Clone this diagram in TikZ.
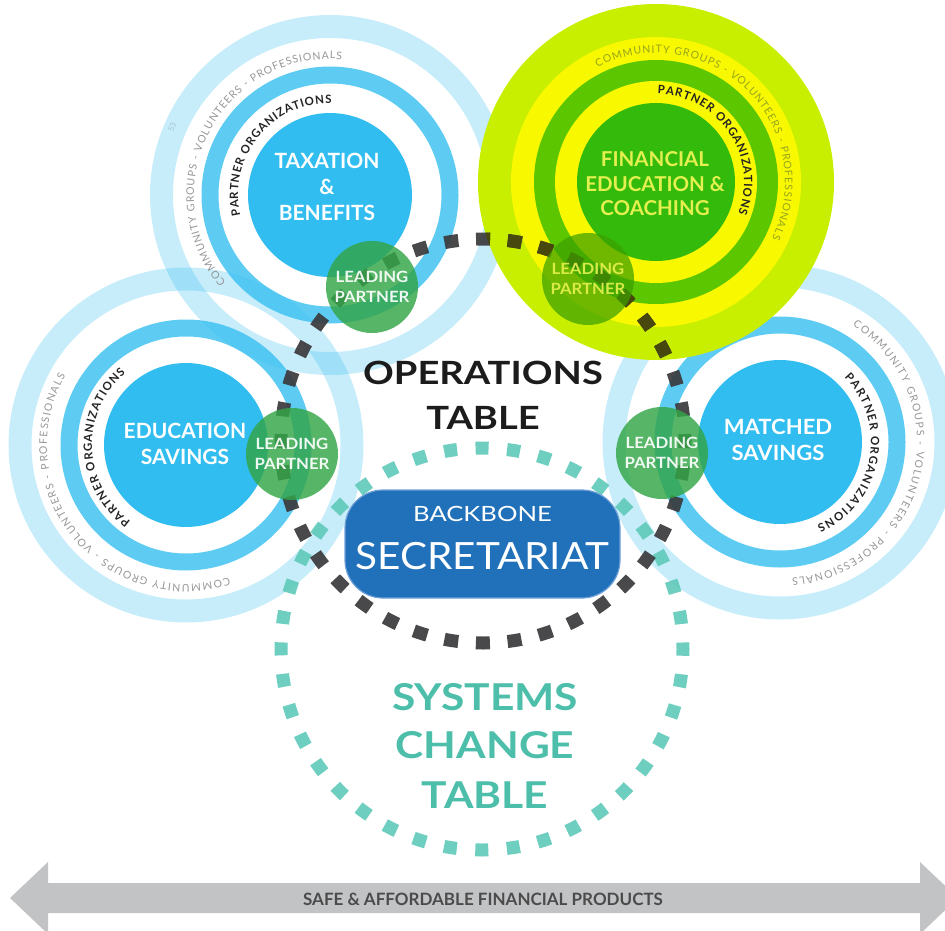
\documentclass[tikz,border=0pt]{standalone}
\usepackage{fontspec}
\usepackage{graphicx}
\setmainfont{Lato}
\usetikzlibrary{decorations.text}
\definecolor{skyb}{RGB}{49,189,240}
\definecolor{lpgreen}{RGB}{50,165,70}
\definecolor{dashdark}{RGB}{58,58,60}
\definecolor{dasholive}{RGB}{72,72,10}
\definecolor{teal2}{RGB}{94,201,185}
\definecolor{tealtext}{RGB}{76,190,170}
\definecolor{bbblue}{RGB}{33,113,186}
\definecolor{bbedge}{RGB}{110,160,215}
\definecolor{arrowgray}{RGB}{194,195,197}
\definecolor{arrowtext}{RGB}{75,75,75}
\definecolor{lime}{RGB}{200,238,0}
\definecolor{hiyellow}{RGB}{248,248,0}
\definecolor{ringgreen}{RGB}{92,198,0}
\definecolor{fingreen}{RGB}{52,186,10}
\definecolor{fintext}{RGB}{228,240,80}
\definecolor{finlp}{RGB}{60,160,0}
\definecolor{commgray}{RGB}{150,150,150}
\definecolor{commolive}{RGB}{150,165,30}
\definecolor{ptcol}{RGB}{35,35,35}
\definecolor{titleblack}{RGB}{28,28,28}
\definecolor{pagenum}{RGB}{165,195,210}
\newcommand{\ptfont}{\fontsize{11.5}{12}\selectfont\bfseries}
\newcommand{\cmfont}{\fontsize{10.5}{11}\selectfont}
\newcommand{\wide}[2]{\scalebox{#1}[1]{#2}}
\newcommand{\ringtext}[7]{\path[decorate,decoration={text along path,text align={fit to path},text={|\color{#6}#5|#7}}] (#1) ++(#3:#2) arc[start angle=#3,end angle=#4,radius=#2];}
\begin{document}
\begin{tikzpicture}[x=1pt,y=1pt,
  lightring/.style={draw=skyb,draw opacity=0.27,line width=23pt},
  midring/.style={draw=skyb,draw opacity=0.78,line width=17pt},
  core/.style={circle,fill=skyb,minimum size=164pt,inner sep=0pt},
  coretext/.style={text=white,font=\fontsize{21}{26}\selectfont\bfseries,align=center,inner sep=0pt},
  leadp/.style={circle,fill=lpgreen,fill opacity=0.82,text opacity=0.92,text=white,minimum size=92pt,inner sep=0pt,font=\fontsize{15.5}{20}\selectfont\bfseries,align=center},
  opsdash/.style={draw=dashdark,draw opacity=0.92,line width=13pt,dash pattern=on 14pt off 17.73pt,dash phase=7pt},
  sysdash/.style={draw=teal2,draw opacity=0.9,line width=13pt,dash pattern=on 13pt off 18.57pt,dash phase=6.5pt},
  bigtitle/.style={font=\fontsize{32}{40}\selectfont\bfseries,text=titleblack,inner sep=0pt},
  systitle/.style={font=\fontsize{37}{44}\selectfont\bfseries,text=tealtext,inner sep=0pt},
  bbox/.style={rounded corners=38pt,fill=bbblue,draw=bbedge,line width=1.2pt,minimum width=275pt,minimum height=108pt,inner sep=0pt}
]
\useasboundingbox (0,0) rectangle (945,-931);
\clip (0,0) rectangle (945,-931);

\coordinate (taxc) at (330,-195);
\coordinate (educ) at (186,-445);
\coordinate (matc) at (780,-442);
\coordinate (finc) at (656,-182);
\coordinate (opsc) at (483,-441);
\coordinate (sysc) at (482,-649);

% blue clusters
\draw[lightring] (taxc) circle[radius=168.5];
\draw[lightring] (educ) circle[radius=166];
\draw[lightring] (matc) circle[radius=166];
\draw[midring] (taxc) circle[radius=120];
\draw[midring] (educ) circle[radius=117];
\draw[midring] (matc) circle[radius=117];
\node[core] (tax) at (taxc) {};
\node[core] (edu) at (educ) {};
\node[core] (mat) at (matc) {};

% highlighted cluster
\fill[lime] (finc) circle[radius=178];
\fill[hiyellow] (finc) circle[radius=145];
\fill[ringgreen] (finc) circle[radius=122];
\fill[hiyellow] (finc) circle[radius=101];
\node[core,fill=fingreen,minimum size=158pt] (fin) at (finc) {};

% ring texts
\ringtext{taxc}{92}{193}{89}{\ptfont}{ptcol}{PARTNER ORGANIZATIONS}
\ringtext{taxc}{136}{220}{85}{\cmfont}{commgray}{COMMUNITY GROUPS - VOLUNTEERS - PROFESSIONALS}
\ringtext{educ}{94}{234}{130}{\ptfont}{ptcol}{PARTNER ORGANIZATIONS}
\ringtext{educ}{139}{288}{150}{\cmfont}{commgray}{COMMUNITY GROUPS - VOLUNTEERS - PROFESSIONALS}
\ringtext{matc}{91}{45}{-66}{\ptfont}{ptcol}{PARTNER ORGANIZATIONS}
\ringtext{matc}{137}{58}{-85}{\cmfont}{commgray}{COMMUNITY GROUPS - VOLUNTEERS - PROFESSIONALS}
\ringtext{finc}{88}{89}{-21}{\ptfont}{ptcol}{PARTNER ORGANIZATIONS}
\ringtext{finc}{129}{117}{-26}{\cmfont}{commolive}{COMMUNITY GROUPS - VOLUNTEERS - PROFESSIONALS}
\node[rotate=67,text=pagenum,font=\fontsize{8}{9}\selectfont,inner sep=0pt] (pg) at (172,-127) {53};

% dashed tables
\draw[sysdash] (sysc) circle[radius=201];
\draw[opsdash] (opsc) circle[radius=202];
\begin{scope}
  \clip (finc) circle[radius=178];
  \draw[opsdash,draw=dasholive] (opsc) circle[radius=202];
\end{scope}

% leading partners
\node[leadp] (taxlp) at (372,-287) {\wide{1.08}{LEADING}\\\wide{1.08}{PARTNER}};
\node[leadp] (edulp) at (292,-454) {\wide{1.08}{LEADING}\\\wide{1.08}{PARTNER}};
\node[leadp] (matlp) at (662,-453) {\wide{1.08}{LEADING}\\\wide{1.08}{PARTNER}};
\node[leadp,fill=finlp,fill opacity=0.72,text=fintext] (finlp) at (588,-279) {\wide{1.08}{LEADING}\\\wide{1.08}{PARTNER}};

% cluster titles
\node[coretext] (taxt) at (327,-187) {TAXATION\\\&\\BENEFITS};
\node[coretext,text=fintext,font=\fontsize{20.5}{24.5}\selectfont\bfseries] (fint) at (655,-184) {FINANCIAL\\EDUCATION \&\\COACHING};
\node[coretext] (edut) at (185,-444) {EDUCATION\\SAVINGS};
\node[coretext] (matt) at (778,-440) {\wide{1.05}{MATCHED}\\\wide{1.05}{SAVINGS}};

% operations table
\node[bigtitle] (ops1) at (483,-373) {\wide{1.19}{OPERATIONS}};
\node[bigtitle] (ops2) at (483,-418) {\wide{1.19}{TABLE}};

% backbone
\node[bbox] (bb) at (482.5,-544) {};
\node[text=white,font=\fontsize{21}{24}\selectfont,inner sep=0pt] (bb1) at (482.5,-514) {\wide{1.22}{BACKBONE}};
\node[text=white,font=\fontsize{37.5}{40}\selectfont,inner sep=0pt] (bb2) at (482.5,-556) {\wide{1.08}{SECRETARIAT}};

% systems change
\node[systitle] (sys1) at (485,-697) {\wide{1.15}{SYSTEMS}};
\node[systitle] (sys2) at (485,-745) {\wide{1.15}{CHANGE}};
\node[systitle] (sys3) at (485,-795) {\wide{1.15}{TABLE}};

% bottom arrow
\fill[arrowgray] (10,-898) -- (48,-862) -- (48,-883) -- (920,-883) -- (920,-862) -- (958,-898)
  -- (920,-934) -- (920,-913) -- (48,-913) -- (48,-934) -- cycle;
\node[text=arrowtext,font=\fontsize{17}{18}\selectfont\bfseries,inner sep=0pt] (prod) at (483,-899) {SAFE \& AFFORDABLE FINANCIAL PRODUCTS};
\end{tikzpicture}
\end{document}
